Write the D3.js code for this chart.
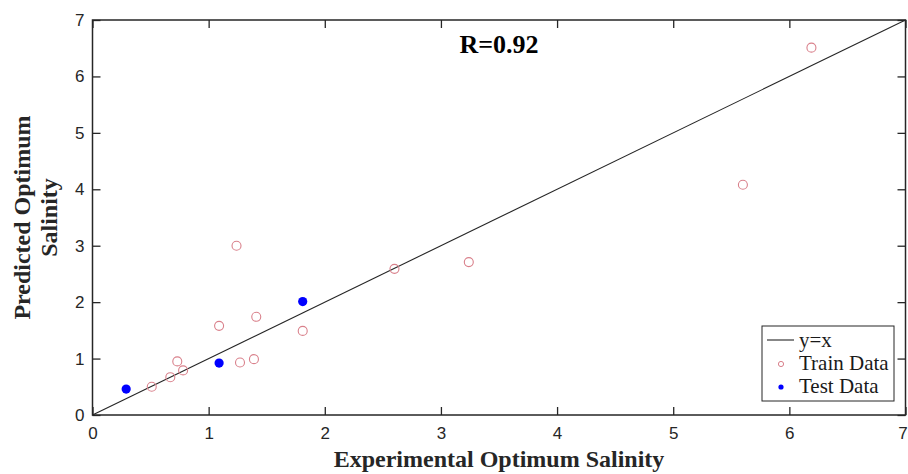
<!DOCTYPE html>
<html lang="en">
<head>
<meta charset="UTF-8">
<title>Predicted vs Experimental Optimum Salinity</title>
<script src="https://d3js.org/d3.v7.min.js"></script>
<style>
  body { margin: 0; background: #fff; }
  svg { display: block; }
</style>
</head>
<body>
<svg width="908" height="474"></svg>
<script>
    // data
    const trainX = [0.51, 0.67, 0.73, 0.78, 1.09, 1.24, 1.27, 1.39, 1.41, 1.81, 2.60, 3.24, 5.60, 6.19];
    const trainY = [0.50, 0.67, 0.95, 0.79, 1.58, 3.00, 0.93, 0.99, 1.74, 1.49, 2.59, 2.71, 4.08, 6.51];
    const testX = [0.29, 1.09, 1.81];
    const testY = [0.46, 0.92, 2.01];
    const ticks = [0, 1, 2, 3, 4, 5, 6, 7];
    const legendLabels = ["y=x", "Train Data", "Test Data"];

    const svg = d3.select("svg");
    const mLeft = 92.5, mRight = 905.5, mTop = 20, mBottom = 415;
    const axisColor = "#262626";
    const trainColor = "#d9808b";
    const testColor = "#0000ff";

    const x = d3.scaleLinear().domain([0, 7]).range([mLeft, mRight]);
    const y = d3.scaleLinear().domain([0, 7]).range([mBottom, mTop]);
    const fmt = d3.format("d");

    // y = x reference line
    svg.append("line")
        .attr("x1", x(0)).attr("y1", y(0))
        .attr("x2", x(7)).attr("y2", y(7))
        .attr("stroke", axisColor)
        .attr("stroke-width", 1.1);

    // axes (ticks inward, box on all sides)
    const tl = 8;
    const gx = svg.append("g").attr("transform", `translate(0,${mBottom})`)
        .call(d3.axisBottom(x).tickValues(ticks).tickFormat(fmt).tickSizeInner(-tl).tickSizeOuter(0).tickPadding(12));
    const gxTop = svg.append("g").attr("transform", `translate(0,${mTop})`)
        .call(d3.axisTop(x).tickValues(ticks).tickSizeInner(-tl).tickSizeOuter(0).tickFormat(""));
    const gy = svg.append("g").attr("transform", `translate(${mLeft},0)`)
        .call(d3.axisLeft(y).tickValues(ticks).tickFormat(fmt).tickSizeInner(-tl).tickSizeOuter(0).tickPadding(8));
    const gyRight = svg.append("g").attr("transform", `translate(${mRight},0)`)
        .call(d3.axisRight(y).tickValues(ticks).tickSizeInner(-tl).tickSizeOuter(0).tickFormat(""));

    [gx, gxTop, gy, gyRight].forEach(g => {
        g.select(".domain").remove();
        g.selectAll("line").attr("stroke", axisColor).attr("stroke-width", 1.3);
        g.selectAll("text")
            .attr("fill", axisColor)
            .style("font-family", "'Liberation Sans', Arial, sans-serif")
            .style("font-size", "17px");
    });
    // last x label sits at the window edge; keep it inside
    gx.selectAll("text").filter(d => d === 7).attr("dx", -3);

    svg.append("rect")
        .attr("x", mLeft).attr("y", mTop)
        .attr("width", mRight - mLeft).attr("height", mBottom - mTop)
        .attr("fill", "none")
        .attr("stroke", axisColor)
        .attr("stroke-width", 1.5);

    // train points
    svg.append("g").selectAll("circle")
        .data(trainX.map((d, i) => [d, trainY[i]]))
        .join("circle")
        .attr("cx", d => x(d[0]))
        .attr("cy", d => y(d[1]))
        .attr("r", 4.5)
        .attr("fill", "none")
        .attr("stroke", trainColor)
        .attr("stroke-width", 1.1);

    // test points
    svg.append("g").selectAll("circle")
        .data(testX.map((d, i) => [d, testY[i]]))
        .join("circle")
        .attr("cx", d => x(d[0]))
        .attr("cy", d => y(d[1]))
        .attr("r", 4.6)
        .attr("fill", testColor);

    // annotation
    svg.append("text")
        .attr("x", 499).attr("y", 53)
        .attr("text-anchor", "middle")
        .style("font-family", "'Liberation Serif', 'Times New Roman', serif")
        .style("font-weight", "bold")
        .style("font-size", "26px")
        .text("R=0.92");

    // axis titles
    svg.append("text")
        .attr("x", (mLeft + mRight) / 2).attr("y", 467)
        .attr("text-anchor", "middle")
        .attr("fill", axisColor)
        .style("font-family", "'Liberation Serif', 'Times New Roman', serif")
        .style("font-weight", "bold")
        .style("font-size", "24px")
        .text("Experimental Optimum Salinity");

    const ylab = svg.append("text")
        .attr("transform", `translate(30,${(mTop + mBottom) / 2}) rotate(-90)`)
        .attr("text-anchor", "middle")
        .attr("fill", axisColor)
        .style("font-family", "'Liberation Serif', 'Times New Roman', serif")
        .style("font-weight", "bold")
        .style("font-size", "24px");
    ylab.append("tspan").attr("x", 0).attr("y", 0).text("Predicted Optimum");
    ylab.append("tspan").attr("x", 0).attr("y", 27).text("Salinity");

    // legend
    const lg = svg.append("g");
    lg.append("rect")
        .attr("x", 762).attr("y", 326)
        .attr("width", 132).attr("height", 75)
        .attr("fill", "#fff")
        .attr("stroke", axisColor)
        .attr("stroke-width", 1);
    const rowY = [341, 364, 387];
    legendLabels.forEach((lab, i) => {
        if (i === 0) {
            lg.append("line")
                .attr("x1", 767).attr("x2", 794)
                .attr("y1", rowY[i] - 1).attr("y2", rowY[i] - 1)
                .attr("stroke", axisColor).attr("stroke-width", 1.1);
        } else if (i === 1) {
            lg.append("circle").attr("cx", 781).attr("cy", rowY[i])
                .attr("r", 2.6).attr("fill", "none")
                .attr("stroke", trainColor).attr("stroke-width", 1);
        } else {
            lg.append("circle").attr("cx", 781).attr("cy", rowY[i])
                .attr("r", 2.6).attr("fill", testColor);
        }
        lg.append("text")
            .attr("x", 799).attr("y", rowY[i] + 6)
            .attr("fill", "#1a1a1a")
            .style("font-family", "'Liberation Serif', 'Times New Roman', serif")
            .style("font-size", "21px")
            .text(lab);
    });
</script>
</body>
</html>
